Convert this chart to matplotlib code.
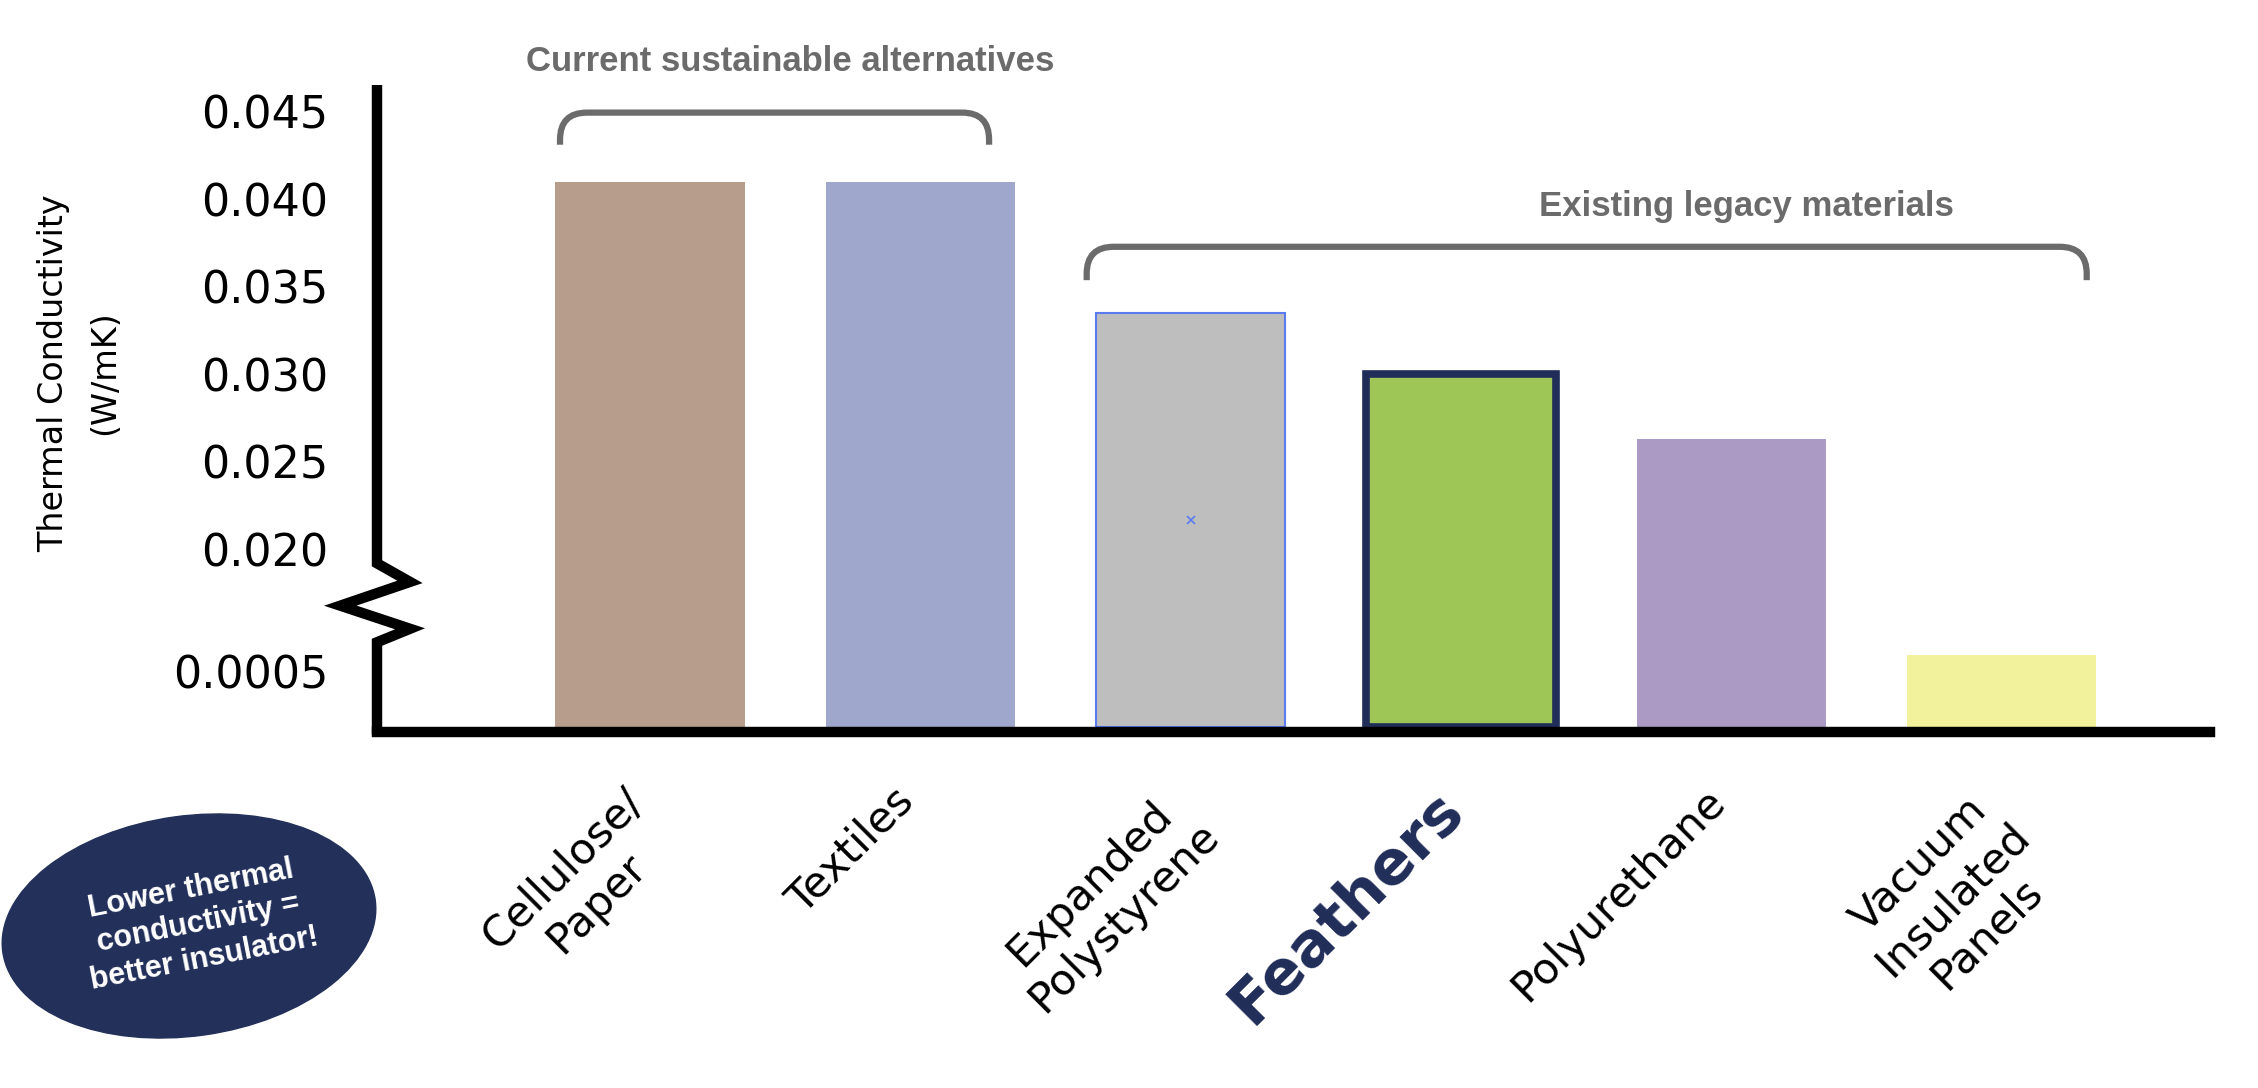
import numpy as np
import matplotlib
matplotlib.use("Agg")
import matplotlib.pyplot as plt
from matplotlib.path import Path
from matplotlib.patches import PathPatch, Ellipse
from matplotlib.transforms import blended_transform_factory, ScaledTranslation

# data
materials = ["Cellulose/\nPaper", "Textiles", "Expanded\nPolystyrene",
             "Feathers", "Polyurethane", "Vacuum\nInsulated\nPanels"]
conductivity = [0.041, 0.041, 0.0335, 0.030, 0.0263, 0.00064]
bar_colors = ["#b79e8c", "#9fa7cc", "#bebebf", "#9ec657", "#aa9ac4", "#f3f29c"]
tick_values = [0.0005, 0.020, 0.025, 0.030, 0.035, 0.040, 0.045]
tick_labels = ["0.0005", "0.020", "0.025", "0.030", "0.035", "0.040", "0.045"]

NAVY = "#202d58"
GRAY = "#6b6b6b"
BOLD_FONT = ["Liberation Sans", "DejaVu Sans"]

# broken axis: values -> pixels above the baseline
scale_values = [0.0, 0.001, 0.020, 0.050]
scale_pixels = [0.0, 112.0, 178.0, 703.0]


def forward(v):
    return np.interp(v, scale_values, scale_pixels)


def inverse(p):
    return np.interp(p, scale_pixels, scale_values)


def bracket(ax, x0, x1, yb, yt, rx=0.1, ry=0.042):
    trans = blended_transform_factory(ax.transData, ax.transAxes)
    verts = [(x0, yb), (x0, yt - ry), (x0, yt), (x0 + rx, yt),
             (x1 - rx, yt), (x1, yt), (x1, yt - ry), (x1, yb)]
    codes = [Path.MOVETO, Path.LINETO, Path.CURVE3, Path.CURVE3,
             Path.LINETO, Path.CURVE3, Path.CURVE3, Path.LINETO]
    ax.add_patch(PathPatch(Path(verts, codes), transform=trans, fill=False,
                           edgecolor=GRAY, linewidth=4.5, clip_on=False))
    return trans


def main():
    fig = plt.figure(figsize=(22.58, 10.88), dpi=100)

    # background layer in pixels for the note bubble
    bg = fig.add_axes([0, 0, 1, 1], zorder=0)
    bg.set_xlim(0, 2258)
    bg.set_ylim(0, 1088)
    bg.axis("off")
    bg.add_patch(Ellipse((189, 162), 376, 220, angle=8, color="#22305a"))
    bg.text(198, 164, "Lower thermal\nconductivity =\nbetter insulator!",
            color="white", fontsize=22, fontweight="bold", family=BOLD_FONT,
            rotation=11, ha="center", va="center", linespacing=1.25)

    ax = fig.add_axes([0.16696, 0.33180, 0.81178, 0.59007], zorder=1)
    ax.set_facecolor("none")
    ax.set_yscale("function", functions=(forward, inverse))

    x = np.arange(len(materials))
    bars = ax.bar(x, conductivity, width=0.70, color=bar_colors, zorder=2)
    bars[2].set_edgecolor("#5a7cf0")
    bars[2].set_linewidth(1.5)
    bars[3].set_edgecolor(NAVY)
    bars[3].set_linewidth(5.5)
    # little selection mark in the middle of the polystyrene bar
    ax.plot(x[2], inverse(forward(conductivity[2]) / 2), marker="x",
            color="#5a7cf0", markersize=6, mew=1.2, zorder=3)

    ax.set_xlim(-1.01, 5.77)
    ax.set_ylim(0, inverse(642))

    for side in ["top", "right", "left"]:
        ax.spines[side].set_visible(False)
    ax.spines["bottom"].set_linewidth(7.5)
    ax.spines["bottom"].set_position(("outward", 3.8))

    # y axis line with the break zigzag
    ax.plot([0, 0, 0.018, -0.02, 0.018, 0, 0],
            [1.0, 0.255, 0.226, 0.189, 0.153, 0.132, -0.012],
            transform=ax.transAxes, color="black", linewidth=7.5,
            solid_joinstyle="miter", solid_capstyle="butt", clip_on=False)

    ax.set_yticks(tick_values, tick_labels)
    ax.tick_params(axis="y", length=0, pad=35, labelsize=32)

    ax.set_xticks(x, materials)
    ax.tick_params(axis="x", length=0, pad=32)
    shift = ScaledTranslation(-0.28, -0.03, fig.dpi_scale_trans)
    for lab in ax.get_xticklabels():
        lab.set_rotation(45)
        lab.set_rotation_mode("anchor")
        lab.set_ha("right")
        lab.set_va("top")
        lab.set_multialignment("center")
        lab.set_fontsize(31)
        lab.set_transform(lab.get_transform() + shift)
    feathers = ax.get_xticklabels()[3]
    feathers.set_fontsize(44)
    feathers.set_fontweight("heavy")
    feathers.set_color(NAVY)

    trans = bracket(ax, -0.333, 1.254, 0.907, 0.957)
    ax.text(0.52, 1.036, "Current sustainable alternatives", transform=trans,
            color=GRAY, fontsize=25, fontweight="bold", family=BOLD_FONT,
            ha="center", va="center")
    bracket(ax, 1.615, 5.314, 0.696, 0.748)
    ax.text(4.057, 0.8115, "Existing legacy materials", transform=trans,
            color=GRAY, fontsize=25, fontweight="bold", family=BOLD_FONT,
            ha="center", va="center")

    fig.text(79 / 2258, 1 - 373 / 1088, "Thermal Conductivity\n(W/mK)",
             rotation=90, ha="center", va="center", fontsize=24,
             linespacing=1.7)

    fig.savefig("out.png", dpi=100)


if __name__ == "__main__":
    main()
